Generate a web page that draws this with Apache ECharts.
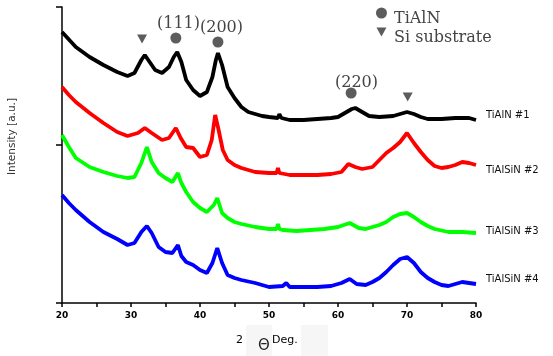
<!DOCTYPE html>
<html>
<head>
    <meta charset="utf-8">
    <script src="https://cdn.jsdelivr.net/npm/echarts@6/dist/echarts.min.js"></script>
</head>
<body style="margin:0">
    <div id="main" style="width: 553px;height:356px;"></div>

    <script type="text/javascript">
        // XRD patterns, [2theta, intensity a.u.]
        var tialn1 = [[20,271],[22,256],[24,246],[26,238],[28,231],[29.5,227],[30.5,230],[31.5,243],[32,248],[32.8,240],[33.5,233],[34.5,230],[35.5,236],[36.2,246],[36.7,251],[37.3,241],[38,223],[39,213],[40,207],[41,211],[41.8,226],[42.3,243],[42.6,250],[43.2,238],[44,216],[45,205],[46,196],[47,191],[48,189],[49,187],[50,186],[51.3,185],[51.5,189],[51.8,185],[53,183],[55,183],[57,184],[59,185],[60,186],[61,190],[62,194],[62.5,195],[63.5,191],[64.5,187],[66,186],[68,187],[69.5,190],[70,191],[71,189],[72,186],[73,184],[75,184],[77,185],[79,185],[80,183]];
        var tialsin2 = [[20,216],[21,208],[22,201],[24,190],[26,180],[28,171],[29.5,167],[31,170],[32,175],[33,170],[34.5,163],[35.5,165],[36.5,175],[37.2,165],[38,156],[39,155],[40,146],[41,148],[41.7,163],[42.2,188],[42.7,173],[43.3,153],[44,143],[45,138],[46,135],[48,131],[50,130],[51.1,130],[51.3,135],[51.5,130],[53,128],[55,128],[57,128],[59,129],[60.5,131],[61.5,139],[62.5,136],[63.5,134],[65,136],[66,143],[67,150],[68,155],[69,161],[70,170],[71,160],[72,151],[73,143],[74,137],[75,135],[76,136],[77,138],[78,141],[79,140],[80,138]];
        var tialsin3 = [[20,168],[21,156],[22,145],[24,136],[26,131],[28,127],[29.5,125],[30.5,126],[31.5,140],[32.3,156],[33,141],[34,130],[35,125],[36,121],[36.8,130],[37.3,120],[38,111],[39,101],[40,95],[41,91],[42,98],[42.5,105],[43.2,90],[44,85],[45,81],[46,79],[48,76],[50,74],[51.1,74],[51.3,79],[51.5,74],[52,73],[54,72],[56,73],[58,74],[60,76],[61.7,80],[63,75],[64,74],[66,78],[67,81],[68,86],[69,89],[70,90],[71,86],[72,81],[73,77],[74,74],[76,71],[78,71],[80,70]];
        var tialsin4 = [[20,108],[21,100],[22,93],[24,81],[26,71],[28,64],[29.5,58],[30.5,60],[31.5,71],[32.3,77],[33,70],[34,56],[35,51],[36,50],[36.8,58],[37.3,47],[38,41],[39,38],[40,33],[41,30],[41.8,40],[42.5,55],[43.2,40],[44,28],[45,25],[46,23],[48,20],[50,16],[52,17],[52.5,20],[53,16],[55,16],[57,16],[59,17],[60.5,20],[61.7,24],[62.7,19],[64,18],[65,21],[66,25],[67,31],[68,38],[69,44],[70,46],[71,40],[72,31],[73,25],[74,21],[75,18],[76,17],[78,21],[79,20],[80,19]];

        // peak markers
        var tialnPeaks = [[36.5,265],[42.6,261],[61.9,210]];
        var siPeaks = [[31.6,264],[70.1,206]];
        var legendDot = [[66.3,290]];
        var legendTri = [[66.3,271]];

        var seriesNames = ['TiAlN #1', 'TiAlSiN #2', 'TiAlSiN #3', 'TiAlSiN #4'];
        var seriesColors = ['#000000', '#ff0000', '#00ff00', '#0000ff'];
        var seriesData = [tialn1, tialsin2, tialsin3, tialsin4];
        var labelY = [116, 171, 232, 280];

        var myChart = echarts.init(document.getElementById('main'));

        var series = seriesData.map(function(d, i) {
            return {
                name: seriesNames[i],
                type: 'line',
                data: d,
                showSymbol: false,
                smooth: false,
                lineStyle: { color: seriesColors[i], width: 3.8 },
                z: 2
            };
        });
        series.push({
            type: 'scatter', data: tialnPeaks.concat(legendDot), symbol: 'circle', symbolSize: 11,
            itemStyle: { color: '#333' }, z: 5
        });
        series.push({
            type: 'scatter', data: siPeaks.concat(legendTri), symbol: 'triangle', symbolRotate: 180,
            symbolSize: [10, 9], itemStyle: { color: '#333' }, z: 5
        });

        var serif = { fontFamily: 'DejaVu Serif', fontSize: 16, fill: '#444' };
        var graphics = [
            { type: 'text', left: 157, top: 16, style: Object.assign({ text: '(111)' }, serif) },
            { type: 'text', left: 200, top: 20, style: Object.assign({ text: '(200)' }, serif) },
            { type: 'text', left: 335, top: 75, style: Object.assign({ text: '(220)' }, serif) },
            { type: 'text', left: 394, top: 11, style: Object.assign({ text: 'TiAlN' }, serif) },
            { type: 'text', left: 394, top: 30, style: Object.assign({ text: 'Si substrate' }, serif) },
            { type: 'text', left: 7, top: 98, rotation: Math.PI / 2,
              style: { text: 'Intensity [a.u.]', fontFamily: 'DejaVu Sans', fontSize: 10.5, fill: '#333' } },
            { type: 'rect', shape: { x: 246, y: 325, width: 26, height: 31 }, style: { fill: '#f6f6f6' } },
            { type: 'rect', shape: { x: 301, y: 325, width: 27, height: 31 }, style: { fill: '#f6f6f6' } },
            { type: 'text', left: 236, top: 335, style: { text: '2', fontFamily: 'DejaVu Sans', fontSize: 11, fill: '#000' } },
            { type: 'text', left: 258, top: 339, style: { text: 'Θ', fontFamily: 'DejaVu Sans', fontSize: 15, fill: '#222' } },
            { type: 'text', left: 272, top: 335, style: { text: 'Deg.', fontFamily: 'DejaVu Sans', fontSize: 11, fill: '#000' } }
        ];
        seriesNames.forEach(function(n, i) {
            graphics.push({
                type: 'text', left: 486, top: labelY[i] - 6,
                style: { text: n, fontFamily: 'DejaVu Sans', fontSize: 10, fill: '#111' }
            });
        });

        var option = {
            animation: false,
            grid: { left: 62, right: 77, top: 7, bottom: 53 },
            xAxis: {
                type: 'value', min: 20, max: 80, interval: 5,
                axisLine: { lineStyle: { color: '#000', width: 1.5 } },
                axisTick: { length: 4, lineStyle: { color: '#000', width: 1.5 } },
                axisLabel: {
                    margin: 8, color: '#000', fontSize: 9, fontWeight: 'bold', fontFamily: 'DejaVu Sans',
                    formatter: function(v) { return v % 10 === 0 ? v : ''; }
                },
                splitLine: { show: false }
            },
            yAxis: {
                type: 'value', min: 0, max: 296, interval: 158,
                axisLine: { show: true, lineStyle: { color: '#000', width: 1.5 } },
                axisTick: { show: true, length: 6, lineStyle: { color: '#000', width: 1.5 } },
                axisLabel: { show: false },
                splitLine: { show: false }
            },
            graphic: graphics,
            series: series
        };
        myChart.setOption(option);
    </script>
</body>
</html>
